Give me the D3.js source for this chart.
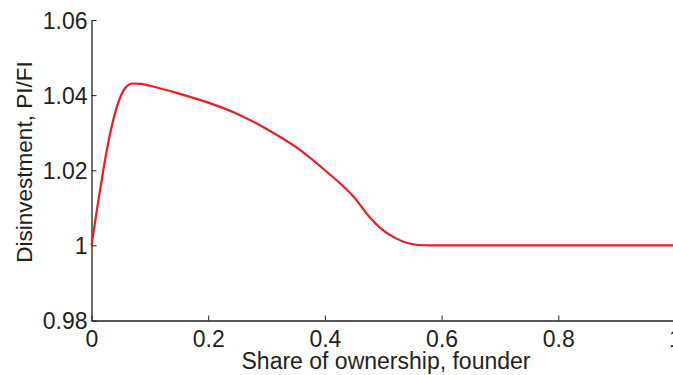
<!DOCTYPE html>
<html>
<head>
<meta charset="utf-8">
<script src="https://cdn.jsdelivr.net/npm/d3@7"></script>
<style>
  html, body { margin: 0; padding: 0; background: #fff; }
  svg { display: block; }
  text { font-family: "Liberation Sans", Arial, Helvetica, sans-serif; fill: #231f20; }
</style>
</head>
<body>
<svg id="chart" width="673" height="375"></svg>
<script>
// Founder's share of ownership vs. disinvestment ratio PI/FI
const share = [0, 0.010, 0.020, 0.030, 0.040, 0.050, 0.060, 0.070, 0.085, 0.100, 0.150,
               0.200, 0.250, 0.300, 0.350, 0.400, 0.450, 0.475, 0.495, 0.520, 0.540, 0.560,
               0.580, 0.700, 0.850, 1.000];
const ratio = [1.0000, 1.0102, 1.0198, 1.0283, 1.0350, 1.0397, 1.0423, 1.0431, 1.0430, 1.0425, 1.0404,
               1.0380, 1.0350, 1.0310, 1.0262, 1.0200, 1.0128, 1.0078, 1.0046, 1.0020, 1.0007, 1.0001,
               1.0000, 1.0000, 1.0000, 1.0000];

const xTicks = [0, 0.2, 0.4, 0.6, 0.8, 1];
const xTickLabels = ["0", "0.2", "0.4", "0.6", "0.8", "1"];
const yTicks = [0.98, 1.00, 1.02, 1.04, 1.06];
const yTickLabels = ["0.98", "1", "1.02", "1.04", "1.06"];

const svg = d3.select("#chart");
const plotLeft = 91.5, plotRight = 675, plotTop = 20, plotBottom = 320.5;

const x = d3.scaleLinear().domain([0, 1]).range([plotLeft, plotRight]);
const y = d3.scaleLinear().domain([0.98, 1.06]).range([plotBottom, plotTop]);

const fontSize = 23;

// x axis (ticks pointing inward)
const gx = svg.append("g").attr("transform", `translate(0,${plotBottom})`)
  .call(d3.axisBottom(x).tickValues(xTicks).tickFormat((d, i) => xTickLabels[i])
        .tickSize(-5).tickSizeOuter(0).tickPadding(0));
gx.select(".domain").attr("stroke", "#231f20").attr("stroke-width", 1.3);
gx.selectAll(".tick line").attr("stroke", "#231f20");
gx.selectAll(".tick text").attr("y", 26).attr("dy", 0)
  .style("font-size", fontSize + "px").attr("fill", "#231f20");

// y axis (ticks pointing inward)
const gy = svg.append("g").attr("transform", `translate(${plotLeft},0)`)
  .call(d3.axisLeft(y).tickValues(yTicks).tickFormat((d, i) => yTickLabels[i])
        .tickSize(-5).tickSizeOuter(0).tickPadding(0));
gy.select(".domain").attr("stroke", "#231f20").attr("stroke-width", 1.3);
gy.selectAll(".tick line").attr("stroke", "#231f20");
gy.selectAll(".tick text").attr("x", -4).attr("dy", "0.36em")
  .style("font-size", fontSize + "px").attr("fill", "#231f20");

// axis titles
svg.append("text")
  .attr("x", 386).attr("y", 369)
  .attr("text-anchor", "middle")
  .style("font-size", fontSize + "px")
  .text("Share of ownership, founder");

svg.append("text")
  .attr("transform", `translate(32,162) rotate(-90)`)
  .attr("text-anchor", "middle")
  .style("font-size", "22.5px")
  .text("Disinvestment, PI/FI");

// curve
const pts = share.map((s, i) => [s, ratio[i]]);
svg.append("path")
  .datum(pts)
  .attr("fill", "none")
  .attr("stroke", "#ec1c24")
  .attr("stroke-width", 2.2)
  .attr("stroke-linejoin", "round")
  .attr("d", d3.line().x(d => x(d[0])).y(d => y(d[1])).curve(d3.curveMonotoneX));
</script>
</body>
</html>
